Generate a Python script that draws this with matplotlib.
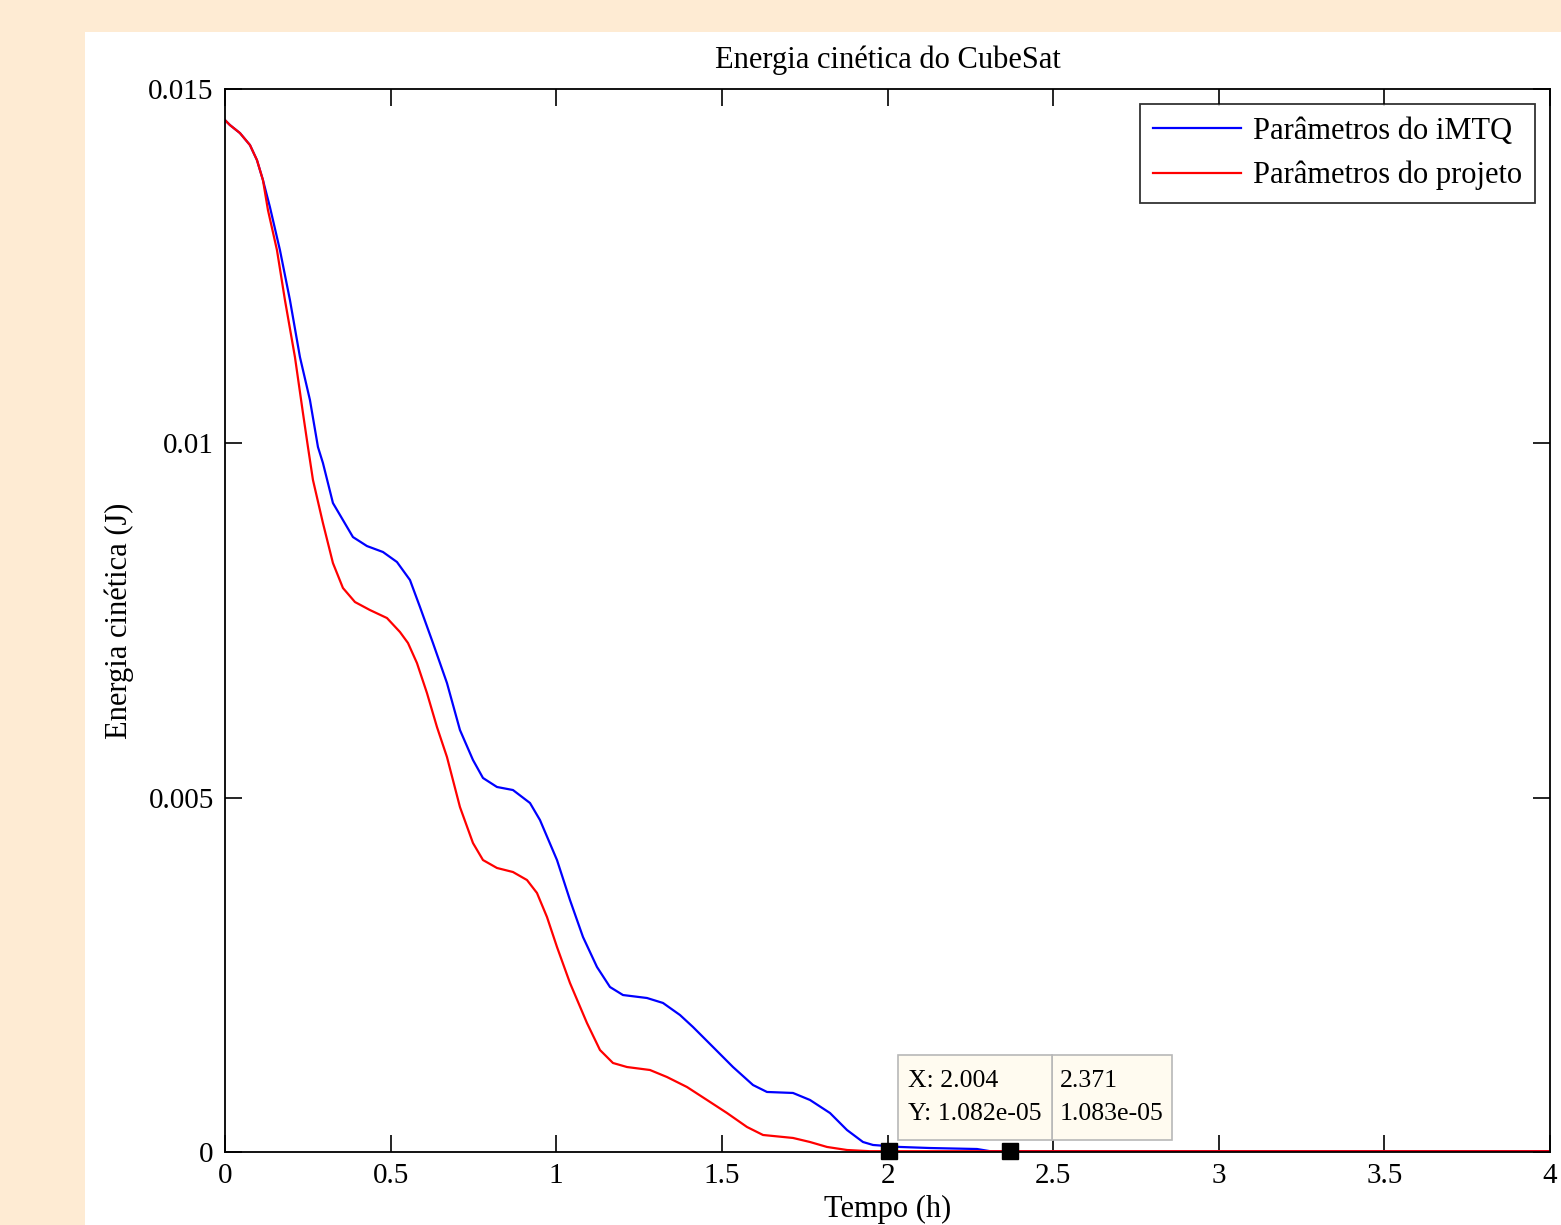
import matplotlib
matplotlib.use("Agg")
import matplotlib.pyplot as plt
from matplotlib.patches import Rectangle

plt.rcParams['font.family'] = ['Liberation Serif', 'DejaVu Serif']

# curva com parametros do iMTQ (azul)
t_imtq = [0, 0.0151, 0.0453, 0.0755, 0.0966, 0.1147, 0.1358, 0.166, 0.1962, 0.2264,
          0.2566, 0.2808, 0.2958, 0.326, 0.3562, 0.3864, 0.4287, 0.477, 0.5192,
          0.5585, 0.5887, 0.6279, 0.6702, 0.7094, 0.7487, 0.7789, 0.8211, 0.8694,
          0.9208, 0.9509, 1.0023, 1.0415, 1.0808, 1.123, 1.1623, 1.2015, 1.274,
          1.3223, 1.3736, 1.4128, 1.4732, 1.5336, 1.594, 1.6362, 1.7147, 1.766,
          1.8264, 1.8777, 1.926, 1.9562, 2.0377, 2.1283, 2.2702, 2.31, 4.0]
e_imtq = [0.014563, 0.014492, 0.014379, 0.01421, 0.013998, 0.013716, 0.013335,
          0.012728, 0.012023, 0.011218, 0.010612, 0.009948, 0.009723, 0.009158,
          0.008918, 0.008678, 0.008551, 0.008467, 0.008326, 0.008072, 0.007691,
          0.007183, 0.006618, 0.005955, 0.005532, 0.005278, 0.005151, 0.005108,
          0.004925, 0.004685, 0.00412, 0.003556, 0.003034, 0.002611, 0.002328,
          0.002215, 0.002173, 0.002103, 0.001933, 0.001764, 0.001482, 0.001199,
          0.000945, 0.000847, 0.000833, 0.000734, 0.00055, 0.00031, 0.000141,
          0.000099, 0.000071, 0.000056, 0.000042, 0.000011, 0.000011]

# curva com parametros do projeto (vermelho)
t_proj = [0, 0.0151, 0.0453, 0.0755, 0.0966, 0.1147, 0.1298, 0.157, 0.1811, 0.2113,
          0.2355, 0.2506, 0.2657, 0.2958, 0.326, 0.3562, 0.3925, 0.4377, 0.4891,
          0.5283, 0.5525, 0.5796, 0.6098, 0.64, 0.6702, 0.7094, 0.7487, 0.7789,
          0.8211, 0.8694, 0.9117, 0.9419, 0.9721, 1.0023, 1.0415, 1.0928, 1.1321,
          1.1713, 1.2136, 1.283, 1.3343, 1.3947, 1.4551, 1.5155, 1.5758, 1.6242,
          1.7147, 1.766, 1.8174, 1.8777, 1.947, 4.0]
e_proj = [0.014563, 0.014492, 0.014379, 0.01421, 0.013998, 0.013716, 0.013293,
          0.012728, 0.012023, 0.011218, 0.010428, 0.009948, 0.009483, 0.008876,
          0.008311, 0.007959, 0.007761, 0.007648, 0.007535, 0.007338, 0.007183,
          0.0069, 0.006477, 0.005997, 0.005574, 0.004868, 0.00436, 0.00412,
          0.004008, 0.003951, 0.003838, 0.003655, 0.003316, 0.002893, 0.002385,
          0.00182, 0.001439, 0.001256, 0.001199, 0.001157, 0.001058, 0.000917,
          0.000734, 0.00055, 0.000353, 0.00024, 0.000198, 0.000141, 0.000071,
          0.000028, 0.000011, 0.000011]

tip_x = [2.004, 2.371]
tip_y = [1.082e-05, 1.083e-05]

fig = plt.figure(figsize=(15.61, 12.25), dpi=100, facecolor='#feebd3')
fig.add_artist(Rectangle((85 / 1561, 0), 1 - 85 / 1561, 1 - 32 / 1225,
                         transform=fig.transFigure, facecolor='white',
                         edgecolor='none', zorder=-5))

ax = fig.add_axes([0.1441, 0.0596, 0.8489, 0.8677])
ax.set_zorder(2)
ax.plot(t_imtq, e_imtq, color='blue', lw=1.6, label='Parâmetros do iMTQ')
ax.plot(t_proj, e_proj, color='red', lw=1.6, label='Parâmetros do projeto')

ax.set_xlim(0, 4)
ax.set_ylim(0, 0.015)
ax.set_xticks([0, 0.5, 1, 1.5, 2, 2.5, 3, 3.5, 4])
ax.set_xticklabels(['0', '0.5', '1', '1.5', '2', '2.5', '3', '3.5', '4'])
ax.set_yticks([0, 0.005, 0.01, 0.015])
ax.set_yticklabels(['0', '0.005', '0.01', '0.015'])
ax.tick_params(direction='in', length=12, width=1.2, labelsize=21,
               top=True, right=True, pad=8)
for s in ax.spines.values():
    s.set_linewidth(1.3)

ax.set_title('Energia cinética do CubeSat', fontsize=22, pad=15)
ax.set_xlabel('Tempo (h)', fontsize=22, labelpad=4)
ax.set_ylabel('Energia cinética (J)', fontsize=22, labelpad=10)

leg = ax.legend(loc='upper right', fontsize=22, frameon=True, fancybox=False,
                edgecolor='black', handlelength=2.9, handletextpad=0.4,
                borderaxespad=0.5, borderpad=0.4, labelspacing=0.5)
leg.get_frame().set_linewidth(1.3)

# data tips (caixas desenhadas a mao, a segunda fica atras da primeira)
ax.plot(tip_x, tip_y, 's', color='black', markersize=11, zorder=5, clip_on=False)
for x0, x1, z in [(2.497, 2.859, 6), (2.032, 2.497, 7)]:
    ax.add_patch(Rectangle((x0, 0.000169), x1 - x0, 0.0012, facecolor='#fffbf0',
                           edgecolor='#b8b8b8', lw=1.2, zorder=z))
ax.text(2.062, 0.000769, 'X: %.3f\nY: %.3e' % (tip_x[0], tip_y[0]), fontsize=18.5,
        va='center', ha='left', zorder=8, linespacing=1.6)
ax.text(2.521, 0.000769, '%.3f\n%.3e' % (tip_x[1], tip_y[1]), fontsize=18.5,
        va='center', ha='left', zorder=8, linespacing=1.6)

fig.savefig('out.png', dpi=100, facecolor=fig.get_facecolor())
